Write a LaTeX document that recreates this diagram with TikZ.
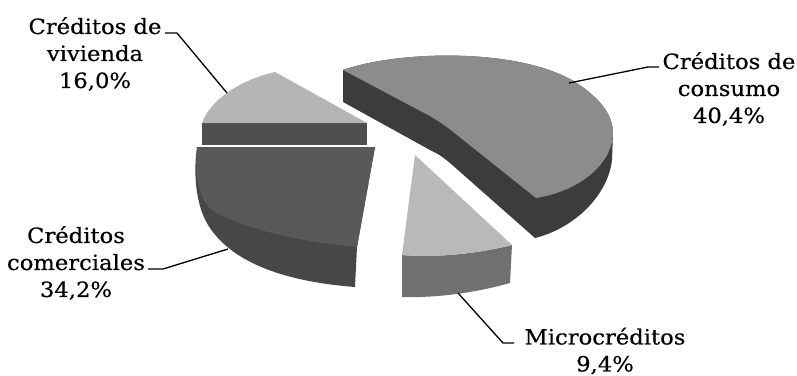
\documentclass[tikz,border=0pt]{standalone}
\usepackage{fontspec}
\setmainfont[FakeStretch=1.08,FakeBold=0.4]{DejaVu Serif}
\begin{document}
\begin{tikzpicture}[x=1pt,y=-1pt,
  lbl/.style={align=center,inner sep=0pt,font=\fontsize{21}{27}\selectfont},
  leader/.style={draw=black,line width=1.3pt}]
\useasboundingbox (0,0) rectangle (797,375);
\definecolor{consTop}{HTML}{8C8C8C}
\definecolor{consSide}{HTML}{3C3C3C}
\definecolor{vivTop}{HTML}{B5B5B5}
\definecolor{vivSide}{HTML}{4F4F4F}
\definecolor{comTop}{HTML}{595959}
\definecolor{comSide}{HTML}{474747}
\definecolor{micTop}{HTML}{B9B9B9}
\definecolor{micSide}{HTML}{707070}

% Creditos comerciales
\fill[comSide] (197,147) -- (375,147) -- (357,247) -- (355,287)
  .. controls (290,282) and (235,265) .. (210,228)
  .. controls (196,208) and (193,175) .. (197,147) -- cycle;
\fill[comTop] (197,147) -- (375,147) -- (357,247)
  .. controls (300,242) and (240,228) .. (212,210)
  .. controls (198,198) and (195,175) .. (197,147) -- cycle;

% Creditos de vivienda
\fill[vivSide] (202,123) rectangle (367,145);
\fill[vivTop] (202,123) .. controls (210,100) and (240,80) .. (275,72) -- (367,123) -- cycle;

% Creditos de consumo
\fill[consSide] (343,70) .. controls (400,50) and (520,48) .. (575,82)
  .. controls (600,98) and (613,115) .. (613,133) -- (612,160)
  .. controls (608,195) and (575,228) .. (535,238)
  -- (450,163) .. controls (440,155) .. (430,150) -- (343,102) -- cycle;
\fill[consTop] (343,70) .. controls (400,50) and (520,48) .. (575,82)
  .. controls (600,98) and (613,115) .. (613,133)
  .. controls (613,160) and (585,190) .. (536,198)
  -- (452,131) .. controls (440,122) .. (428,115) -- cycle;

% Microcreditos
\fill[micSide] (402,255) .. controls (440,258) and (480,253) .. (512,245)
  -- (510,283) .. controls (478,292) and (440,298) .. (402,297) -- cycle;
\fill[micTop] (415,155) -- (512,245) .. controls (480,253) and (440,258) .. (402,255) -- cycle;

% Labels
\node[lbl] (viv) at (95,54) {Créditos de\\vivienda\\16,0\%};
\node[lbl] (cons) at (729,89) {Créditos de\\consumo\\40,4\%};
\node[lbl] (com) at (76,263) {Créditos\\comerciales\\34,2\%};
\node[lbl] (mic) at (605,351) {Microcréditos\\9,4\%};

% Leader lines
\coordinate (vivs) at (165,33);
\coordinate (vivk) at (177,33);
\coordinate (vivp) at (227,93);
\draw[leader] (vivs) -- (vivk) -- (vivp);
\coordinate (conss) at (659,67);
\coordinate (consk) at (648,67);
\coordinate (consp) at (569,83);
\draw[leader] (conss) -- (consk) -- (consp);
\coordinate (coms) at (148,269);
\coordinate (comk) at (163,269);
\coordinate (comp) at (228,249);
\draw[leader] (coms) -- (comk) -- (comp);
\coordinate (mics) at (514,343);
\coordinate (mick) at (503,343);
\coordinate (micp) at (458,293);
\draw[leader] (mics) -- (mick) -- (micp);
\end{tikzpicture}
\end{document}
